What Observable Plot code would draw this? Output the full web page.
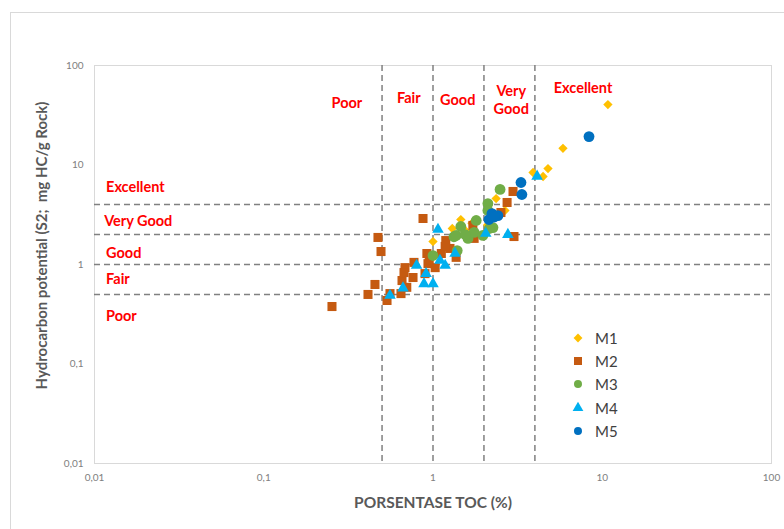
<!DOCTYPE html>
<html>
<head>
<meta charset="utf-8">
<script src="https://cdn.jsdelivr.net/npm/d3@7"></script>
<script src="https://cdn.jsdelivr.net/npm/@observablehq/plot@0.6"></script>
<style>
  body { margin: 0; background: #fff; overflow: hidden; }
  #wrap { position: relative; width: 784px; height: 529px; overflow: hidden; font-family: Lato, "Open Sans", sans-serif; }
  #outer { position: absolute; left: 10px; top: 12px; width: 800px; height: 540px; border: 1px solid #d9d9d9; }
  #chart { position: absolute; left: 0; top: 0; }
  #legend { position: absolute; left: 570px; top: 326px; }
  .row { display: flex; align-items: center; height: 23.3px; }
  .row svg { width: 16px; height: 16px; margin-right: 9px; }
  .row span { font-size: 15px; color: #404040; }
</style>
</head>
<body>
<div id="wrap">
  <div id="outer"></div>
  <div id="chart"></div>
  <div id="legend"></div>
</div>
<script>
// Source-rock quality: total organic carbon (TOC, %) against S2 hydrocarbon potential
const seriesNames = ["M1", "M2", "M3", "M4", "M5"];
const seriesColors = ["#ffc000", "#c55a11", "#70ad47", "#00b0f0", "#0070c0"];
const seriesSymbols = ["diamond2", "square", "circle", "triangle", "circle"];
const seriesRadius = [4.2, 5.1, 5.4, 4.3, 5.4];

const m1Toc = [10.8, 5.86, 4.78, 3.9, 4.47, 2.36, 2.66, 1.46, 1.0, 1.3, 1.7, 2.1, 1.55];
const m1S2  = [40.5, 14.7, 9.2, 8.4, 7.66, 4.6, 3.49, 2.83, 1.7, 2.3, 2.6, 2.5, 2.2];

const m2Toc = [0.253, 0.413, 0.454, 0.535, 0.557, 0.473, 0.493, 0.873, 0.647, 0.70, 0.656, 0.762, 0.683, 0.674, 0.772, 0.897, 0.934, 0.92, 1.03, 1.12, 1.19, 1.26, 1.37, 1.75, 1.72, 2.52, 2.74, 2.97, 3.01, 1.18, 0.95];
const m2S2  = [0.378, 0.50, 0.63, 0.435, 0.51, 1.87, 1.35, 2.9, 0.51, 0.59, 0.69, 0.74, 0.93, 0.83, 1.05, 0.81, 1.02, 1.29, 0.93, 1.29, 1.74, 1.45, 1.18, 1.83, 2.47, 3.33, 4.2, 5.42, 1.91, 1.52, 1.1];

const m3Toc = [1.0, 1.39, 1.33, 1.37, 1.46, 1.61, 1.8, 1.75, 1.97, 2.11, 2.11, 2.26, 2.49, 1.55, 2.15];
const m3S2  = [1.23, 1.38, 1.9, 1.96, 2.41, 1.83, 2.77, 2.1, 1.96, 4.1, 3.49, 2.35, 5.68, 2.0, 2.3];

const m4Toc = [0.557, 0.665, 0.80, 0.91, 0.885, 1.0, 1.07, 1.1, 1.18, 1.35, 2.05, 2.77, 4.12];
const m4S2  = [0.49, 0.58, 0.98, 0.81, 0.64, 0.64, 2.25, 1.1, 0.98, 1.29, 2.05, 2.0, 7.7];

const m5Toc = [8.35, 3.31, 3.35, 2.23, 2.42, 2.14, 2.3];
const m5S2  = [19.3, 6.67, 5.05, 3.25, 3.1, 2.83, 3.0];

const tocThresholds = [0.5, 1, 2, 4];
const s2Thresholds = [0.5, 1, 2, 4];
const axisTicks = [0.01, 0.1, 1, 10, 100];

// Quality zones along TOC (top) and S2 (left)
const tocZoneLabels = ["Poor", "Fair", "Good", "Very\nGood", "Excellent"];
const tocZoneX = [0.31, 0.72, 1.4, 2.9, 7.7];
const tocZoneY = [42.5, 47.7, 45.5, 45.5, 60];
const s2ZoneLabels = ["Excellent", "Very Good", "Good", "Fair", "Poor"];
const s2ZoneX = [0.0117, 0.0114, 0.0117, 0.0117, 0.0117];
const s2ZoneY = [5.94, 2.71, 1.29, 0.707, 0.30];

const xTitle = "PORSENTASE TOC (%)";
const yTitle = "Hydrocarbon potential (S2;  mg HC/g Rock)";

const seriesData = [
  [m1Toc, m1S2], [m2Toc, m2S2], [m3Toc, m3S2], [m4Toc, m4S2], [m5Toc, m5S2]
].map(([t, s]) => t.map((toc, i) => ({toc, s2: s[i]})));

const commaFormat = d => String(d).replace(".", ",");
const grey = "#808080";

const tocZones = tocZoneLabels.map((label, i) => ({label, x: tocZoneX[i], y: tocZoneY[i]}));
const s2Zones = s2ZoneLabels.map((label, i) => ({label, x: s2ZoneX[i], y: s2ZoneY[i]}));

const chart = Plot.plot({
  width: 784,
  height: 529,
  marginLeft: 94,
  marginRight: 13,
  marginTop: 65,
  marginBottom: 66,
  x: {type: "log", domain: [0.01, 100]},
  y: {type: "log", domain: [0.01, 100]},
  style: {fontFamily: "Lato, 'Open Sans', sans-serif", background: "transparent", overflow: "visible"},
  marks: [
    Plot.frame({stroke: "#d9d9d9"}),
    Plot.ruleX(tocThresholds, {stroke: grey, strokeWidth: 1.5, strokeDasharray: "6,4"}),
    Plot.ruleY(s2Thresholds, {stroke: grey, strokeWidth: 1.5, strokeDasharray: "6,4"}),
    Plot.axisX({ticks: axisTicks, tickFormat: commaFormat, tickSize: 0, tickPadding: 10, fontSize: 10, fill: grey, label: null}),
    Plot.axisY({ticks: axisTicks, tickFormat: commaFormat, tickSize: 0, tickPadding: 11, fontSize: 10, fill: grey, label: null}),
    Plot.text([xTitle], {frameAnchor: "bottom", dy: 44, fontSize: 15.5, fontWeight: "bold", fill: "#595959"}),
    Plot.text([yTitle], {frameAnchor: "left", textAnchor: "middle", dx: -52, dy: -19, rotate: -90, fontSize: 15, fontWeight: "bold", fill: "#595959"}),
    Plot.text(tocZones, {x: "x", y: "y", text: "label", fill: "#ff0000", fontSize: 14.5, fontWeight: "bold", lineHeight: 1.25}),
    Plot.text(s2Zones, {x: "x", y: "y", text: "label", fill: "#ff0000", fontSize: 14.5, fontWeight: "bold", textAnchor: "start"}),
    ...seriesData.map((pts, i) => Plot.dot(pts, {
      x: "toc", y: "s2",
      symbol: () => seriesSymbols[i],
      fill: seriesColors[i],
      r: seriesRadius[i]
    }))
  ]
});
document.getElementById("chart").appendChild(chart);

// Legend: one row per series
const legendSize = [50, 64, 50, 50, 50];
const legend = d3.select("#legend");
seriesNames.forEach((name, i) => {
  const row = legend.append("div").attr("class", "row");
  const sym = {diamond2: d3.symbolDiamond2, square: d3.symbolSquare, circle: d3.symbolCircle, triangle: d3.symbolTriangle}[seriesSymbols[i]];
  row.append("svg").attr("viewBox", "-8 -8 16 16")
    .append("path")
    .attr("d", d3.symbol(sym, legendSize[i])())
    .attr("fill", seriesColors[i]);
  row.append("span").text(name);
});
</script>
</body>
</html>
